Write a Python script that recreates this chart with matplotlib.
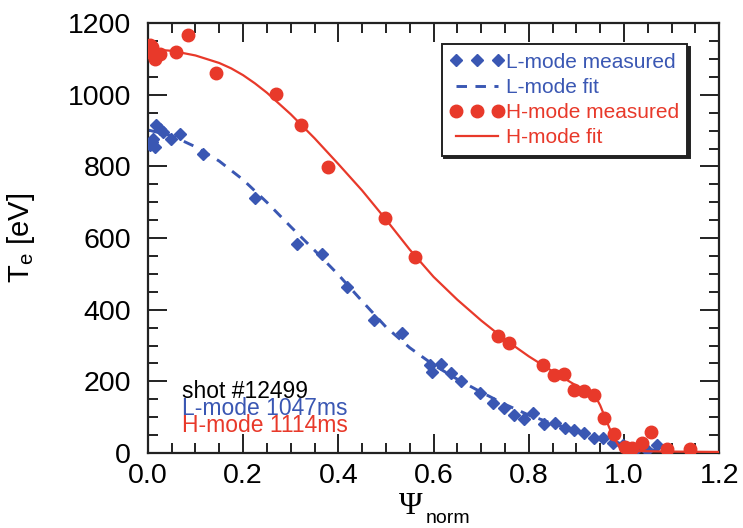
import numpy as np
import matplotlib
matplotlib.use("Agg")
from matplotlib import pyplot as plt
from matplotlib.ticker import MultipleLocator

plt.rcParams['font.family'] = ['Liberation Sans', 'DejaVu Sans']
plt.rcParams['mathtext.fontset'] = 'custom'
plt.rcParams['mathtext.rm'] = 'Liberation Sans'

red = '#e8392a'
blue = '#3a57b3'

# L-mode Thomson points (psi_norm, Te in eV)
l_psi = [0.005, 0.008, 0.011, 0.015, 0.018, 0.025, 0.032, 0.048, 0.067, 0.116,
         0.225, 0.314, 0.365, 0.419, 0.475, 0.533, 0.592, 0.596, 0.615, 0.636,
         0.657, 0.697, 0.724, 0.747, 0.769, 0.790, 0.809, 0.831, 0.855, 0.876,
         0.895, 0.915, 0.937, 0.956, 0.976, 0.998, 1.027, 1.048, 1.069]
l_te = [860, 869, 878, 855, 915, 906, 897, 878, 890, 834,
        711, 585, 557, 464, 372, 334, 246, 225, 248, 223,
        200, 167, 141, 125, 106, 96, 112, 80, 84, 70,
        65, 57, 43, 41, 29, 22, 13, 8, 22]

# L-mode fit
lfit_psi = [0.0, 0.05, 0.10, 0.15, 0.20, 0.25, 0.30, 0.35, 0.40, 0.45, 0.50,
            0.55, 0.60, 0.65, 0.70, 0.75, 0.80, 0.85, 0.90, 0.95, 1.00, 1.05, 1.08]
lfit_te = [902, 886, 855, 815, 763, 700, 632, 566, 498, 424, 352,
           294, 246, 206, 170, 136, 106, 82, 62, 42, 24, 10, 5]

# H-mode Thomson points
h_psi = [0.004, 0.008, 0.011, 0.015, 0.025, 0.060, 0.085, 0.144, 0.270, 0.321,
         0.378, 0.498, 0.561, 0.736, 0.759, 0.829, 0.852, 0.873, 0.895, 0.916,
         0.938, 0.957, 0.979, 1.002, 1.016, 1.037, 1.056, 1.090, 1.139]
h_te = [1140, 1134, 1115, 1099, 1115, 1120, 1167, 1060, 1002, 915,
        799, 657, 548, 327, 308, 245, 218, 222, 177, 174,
        162, 97, 52, 16, 15, 29, 60, 11, 11]

# H-mode fit
hfit_psi = [0.0, 0.05, 0.10, 0.15, 0.175, 0.20, 0.225, 0.25, 0.30, 0.35, 0.40,
            0.45, 0.50, 0.55, 0.60, 0.65, 0.70, 0.75, 0.80, 0.85, 0.90, 0.93,
            0.94, 0.95, 0.96, 0.97, 0.98, 0.99, 1.00, 1.01, 1.05, 1.10, 1.20]
hfit_te = [1128, 1123, 1110, 1089, 1074, 1055, 1032, 1006, 946, 879, 807,
           733, 652, 568, 492, 428, 370, 317, 270, 228, 188, 168,
           158, 133, 100, 68, 40, 18, 9, 6, 5, 4, 3]

fig = plt.figure(figsize=(7.43, 5.28), dpi=100)
ax = fig.add_axes([0.199, 0.142, 0.769, 0.814])

ax.plot(lfit_psi, lfit_te, color=blue, lw=2.1, ls=(0, (3.6, 2.9)),
        label='L-mode fit', zorder=2)
ax.plot(l_psi, l_te, 'D', color=blue, ms=6.5, mec=blue, ls='none',
        label='L-mode measured', zorder=3)
ax.plot(hfit_psi, hfit_te, color=red, lw=1.6, label='H-mode fit', zorder=4)
ax.plot(h_psi, h_te, 'o', color=red, ms=9, mec=red, ls='none',
        label='H-mode measured', zorder=5)

ax.set_xlim(0, 1.2)
ax.set_ylim(0, 1200)
ax.xaxis.set_major_locator(MultipleLocator(0.2))
ax.xaxis.set_minor_locator(MultipleLocator(0.05))
ax.yaxis.set_major_locator(MultipleLocator(200))
ax.yaxis.set_minor_locator(MultipleLocator(50))
ax.set_xticklabels([f'{v:.1f}' for v in ax.get_xticks()])
ax.tick_params(which='both', direction='in', top=True, right=True,
               width=1.4, colors='#222222', labelcolor='black')
ax.tick_params(which='major', length=14, labelsize=20.5)
ax.tick_params(which='minor', length=7)
ax.tick_params(axis='x', which='major', pad=7)
ax.tick_params(axis='y', which='major', pad=12)
for s in ax.spines.values():
    s.set_linewidth(1.6)
    s.set_color('#222222')

# legend with coloured text, three markers per entry
handles, labels = ax.get_legend_handles_labels()
order = [1, 0, 3, 2]
leg = ax.legend([handles[i] for i in order], [labels[i] for i in order],
                loc='upper right', bbox_to_anchor=(0.944, 0.951),
                numpoints=3, handlelength=2.6, handletextpad=0.08,
                fontsize=15, fancybox=False,
                shadow={'color': '#222222', 'alpha': 1.0},
                framealpha=1, edgecolor='#222222', borderpad=0.4,
                labelspacing=0.3, borderaxespad=0)
leg.get_frame().set_linewidth(1.4)
for txt, c in zip(leg.get_texts(), [blue, blue, red, red]):
    txt.set_color(c)

ax.text(0.071, 154, 'shot #12499', color='black', fontsize=16.5, va='baseline')
ax.text(0.071, 107, 'L-mode 1047ms', color=blue, fontsize=16.5, va='baseline')
ax.text(0.071, 60, 'H-mode 1114ms', color=red, fontsize=16.5, va='baseline')

fig.text(21 / 743, 1 - 238 / 528, r'T$_{\mathrm{e}}$ [eV]', rotation=90,
         ha='center', va='center', fontsize=21)
fig.text(411 / 743, 1 - 506 / 528, '\u03a8', family='Liberation Serif',
         ha='center', va='center', fontsize=23)
fig.text(426 / 743, 1 - 527 / 528, 'norm', ha='left', va='bottom',
         fontsize=14)

fig.savefig('out.png', dpi=100)
